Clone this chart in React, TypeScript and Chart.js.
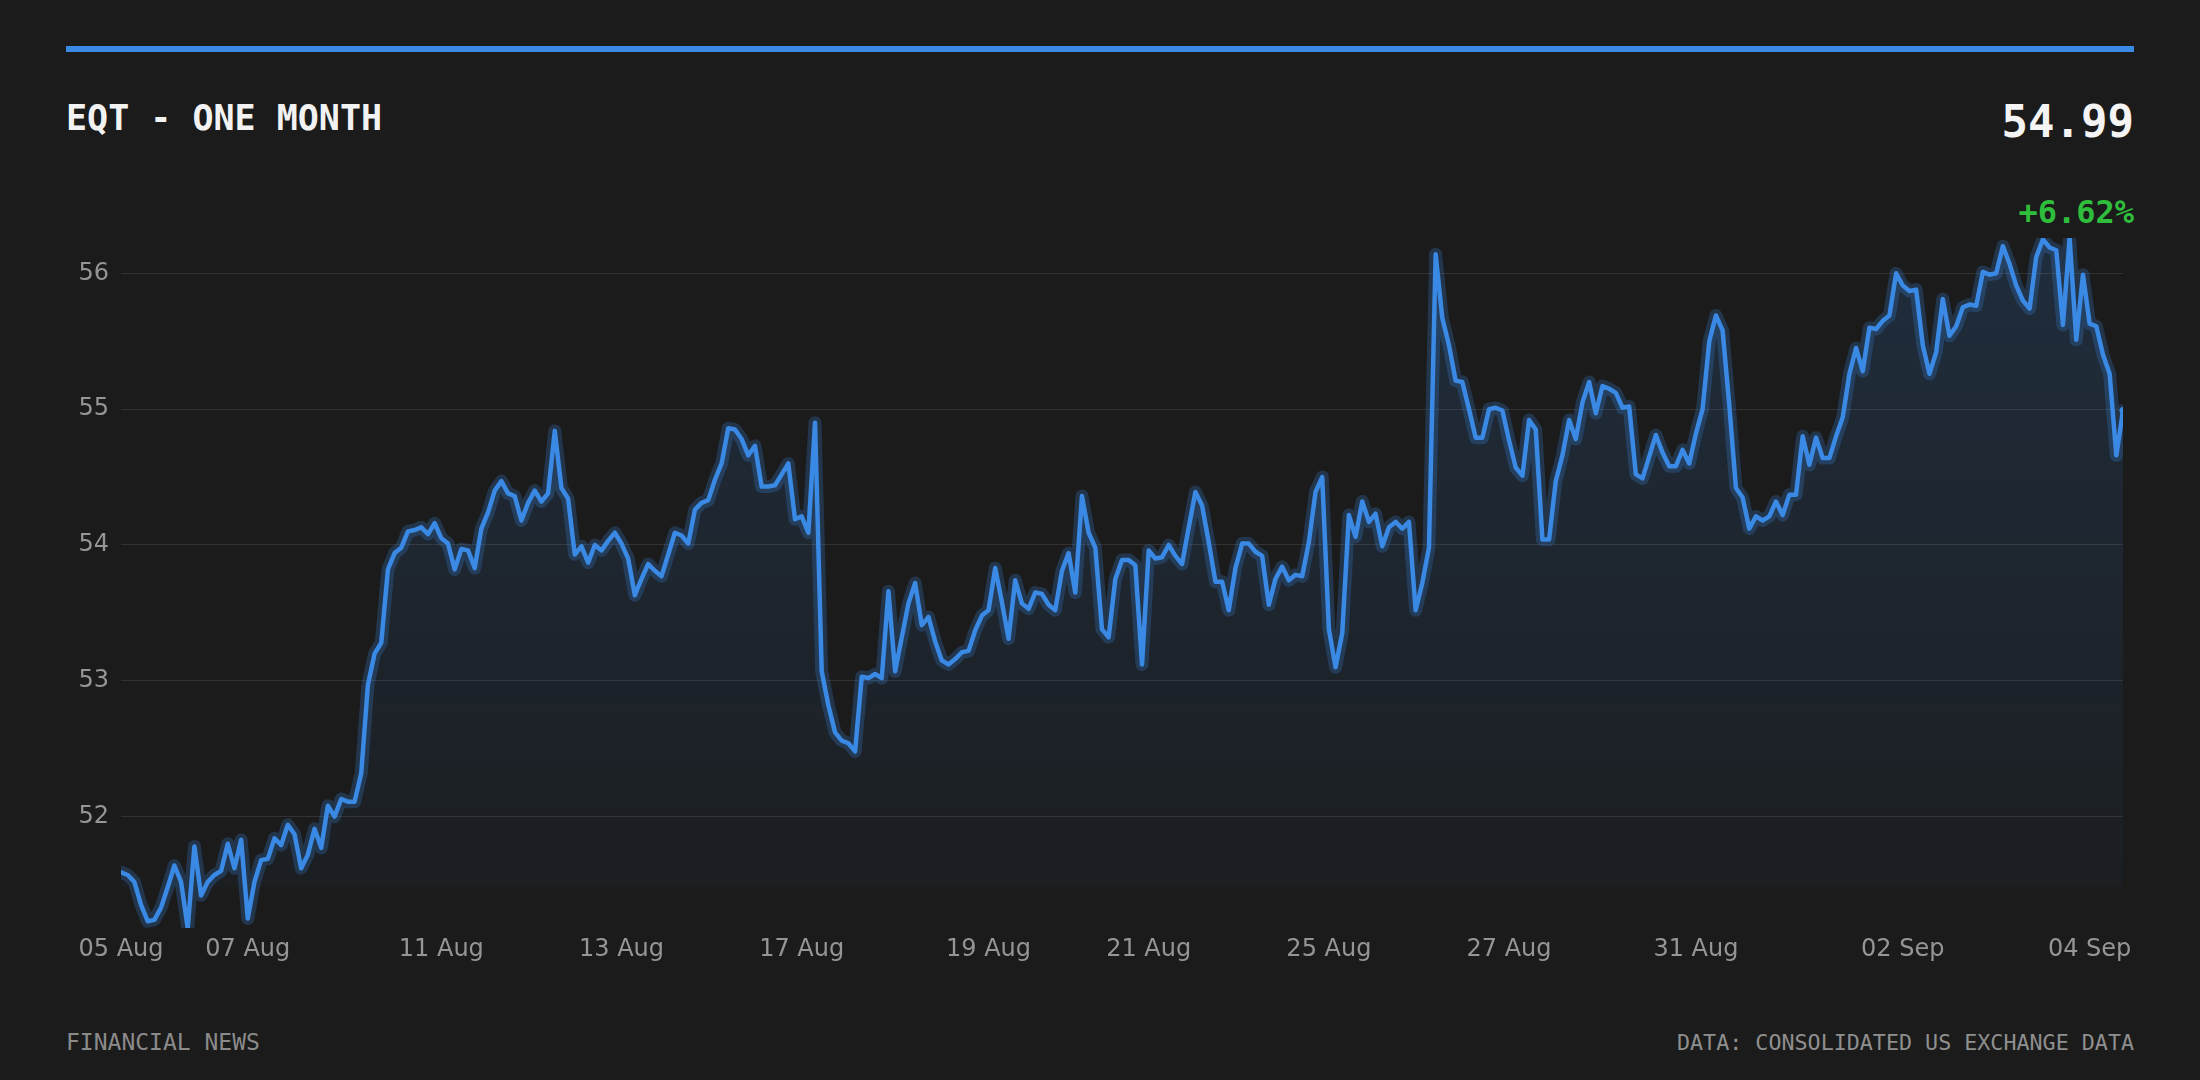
import React, { useEffect, useRef } from 'react';
import { Chart, registerables } from 'chart.js';

Chart.register(...registerables);

const TITLE = 'EQT - ONE MONTH';
const PRICE_TEXT = '54.99';
const CHANGE_TEXT = '+6.62%';
const FOOTER_LEFT = 'FINANCIAL NEWS';
const FOOTER_RIGHT = 'DATA: CONSOLIDATED US EXCHANGE DATA';

const PRICES = [
  51.59, 51.57, 51.52, 51.35, 51.23, 51.24, 51.33, 51.48, 51.64, 51.52,
  51.18, 51.78, 51.42, 51.52, 51.57, 51.60, 51.80, 51.62, 51.83, 51.25,
  51.52, 51.68, 51.69, 51.84, 51.79, 51.94, 51.87, 51.62, 51.72, 51.91,
  51.77, 52.08, 52.00, 52.13, 52.11, 52.11, 52.32, 52.97, 53.20, 53.28,
  53.82, 53.94, 53.98, 54.10,
  54.11, 54.13, 54.08, 54.16, 54.05, 54.01, 53.82, 53.97, 53.96, 53.83,
  54.12, 54.24, 54.40, 54.47, 54.38, 54.36, 54.18, 54.31, 54.40, 54.32,
  54.38, 54.84, 54.42, 54.34, 53.93, 53.99, 53.87, 54.00, 53.96, 54.03,
  54.09, 54.01, 53.90, 53.63, 53.75, 53.86, 53.81, 53.77, 53.93, 54.09,
  54.07, 54.01, 54.26, 54.31,
  54.33, 54.48, 54.60, 54.86, 54.85, 54.78, 54.66, 54.73, 54.43, 54.43,
  54.44, 54.52, 54.60, 54.19, 54.21, 54.09, 54.90, 53.07, 52.82, 52.62,
  52.56, 52.54, 52.48, 53.03, 53.02, 53.05, 53.02, 53.66, 53.07, 53.32,
  53.57, 53.72, 53.41, 53.47, 53.29, 53.15, 53.12, 53.16, 53.21, 53.22,
  53.37, 53.48,
  53.52, 53.83, 53.58, 53.31, 53.74, 53.57, 53.53, 53.65, 53.64, 53.56,
  53.52, 53.81, 53.94, 53.65, 54.36, 54.09, 53.98, 53.38, 53.32, 53.75,
  53.89, 53.89, 53.85, 53.12, 53.96, 53.90, 53.91, 54.00, 53.92, 53.86,
  54.13, 54.39, 54.29, 54.02, 53.73, 53.73, 53.52, 53.83, 54.01, 54.01,
  53.95, 53.92, 53.56, 53.75,
  53.84, 53.74, 53.78, 53.77, 54.02, 54.39, 54.50, 53.38, 53.10, 53.35,
  54.22, 54.06, 54.32, 54.17, 54.23, 53.99, 54.13, 54.17, 54.12, 54.17,
  53.52, 53.72, 53.98, 56.14, 55.67, 55.47, 55.21, 55.20, 55.00, 54.79,
  54.79, 55.00, 55.01, 54.99, 54.77, 54.57, 54.51, 54.92, 54.85, 54.04,
  54.04, 54.47, 54.66, 54.92,
  54.78, 55.05, 55.20, 54.97, 55.17, 55.15, 55.12, 55.01, 55.02, 54.52,
  54.49, 54.65, 54.81, 54.68, 54.58, 54.58, 54.70, 54.60, 54.82, 55.00,
  55.50, 55.69, 55.58, 55.03, 54.42, 54.35, 54.12, 54.21, 54.18, 54.21,
  54.32, 54.22, 54.37, 54.37, 54.80, 54.59, 54.79, 54.64, 54.64, 54.80,
  54.94, 55.26, 55.45,
  55.28, 55.60, 55.59, 55.65, 55.69, 56.00, 55.91, 55.87, 55.88, 55.47,
  55.26, 55.42, 55.81, 55.54, 55.61, 55.75, 55.77, 55.76, 56.01, 55.99,
  56.00, 56.20, 56.07, 55.91, 55.80, 55.74, 56.12, 56.25, 56.19, 56.17,
  55.62, 56.26, 55.51, 55.99, 55.63, 55.61, 55.40, 55.26, 54.66, 54.99,
];

const TICK_IDX = [0, 19, 48, 75, 102, 130, 154, 181, 208, 236, 267, 295];
const TICK_LABELS = ['05 Aug', '07 Aug', '11 Aug', '13 Aug', '17 Aug', '19 Aug', '21 Aug', '25 Aug', '27 Aug', '31 Aug', '02 Sep', '04 Sep'];
const Y_TICKS = [52, 53, 54, 55, 56];

const BG = '#1b1b1b';
const BLUE = '#3a89e4';
const GLOW = 'rgba(58,137,228,0.24)';
const GRID = 'rgba(255,255,255,0.10)';
const TICK_COLOR = '#959595';
const GREEN = '#2fbe3c';
const MONO = '"DejaVu Sans Mono", monospace';

export default function App() {
  const ref = useRef<HTMLCanvasElement | null>(null);

  useEffect(() => {
    document.body.style.margin = '0';
    document.body.style.background = BG;
    const points = PRICES.map((y, x) => ({ x, y }));
    const tickFont = { family: 'DejaVu Sans', size: 24 };
    const chart = new Chart(ref.current as HTMLCanvasElement, {
      type: 'line',
      data: {
        datasets: [
          {
            data: points,
            borderColor: BLUE,
            borderWidth: 4.5,
            fill: false,
            tension: 0,
            borderJoinStyle: 'round',
            borderCapStyle: 'round',
            pointRadius: (c: any) => (c.dataIndex === PRICES.length - 1 ? 3.5 : 0),
            pointBackgroundColor: BLUE,
            pointBorderWidth: 0,
            pointHoverRadius: 0,
          },
          {
            data: points,
            borderColor: GLOW,
            borderWidth: 13,
            tension: 0,
            borderJoinStyle: 'round',
            borderCapStyle: 'round',
            pointRadius: 0,
            pointHoverRadius: 0,
            fill: 'start',
            backgroundColor: (c: any) => {
              const area = c.chart.chartArea;
              if (!area) return 'rgba(0,0,0,0)';
              const g = c.chart.ctx.createLinearGradient(0, area.top, 0, area.bottom);
              g.addColorStop(0, 'rgba(58,137,228,0.17)');
              g.addColorStop(0.94, 'rgba(58,137,228,0.035)');
              g.addColorStop(0.941, 'rgba(58,137,228,0.0)');
              g.addColorStop(1, 'rgba(58,137,228,0.0)');
              return g;
            },
          },
        ],
      } as any,
      options: {
        animation: false,
        responsive: true,
        maintainAspectRatio: false,
        events: [],
        layout: { padding: { top: 10, right: 15, bottom: 0, left: 0 } },
        plugins: { legend: { display: false }, tooltip: { enabled: false } },
        scales: {
          x: {
            type: 'linear',
            min: 0,
            max: PRICES.length - 1,
            grid: { display: false, drawTicks: false },
            border: { display: false },
            afterBuildTicks: (s: any) => {
              s.ticks = TICK_IDX.map((value) => ({ value }));
            },
            afterFit: (s: any) => {
              s.height = 40;
              s.paddingLeft = 0;
              s.paddingRight = 0;
            },
            ticks: {
              autoSkip: false,
              maxRotation: 0,
              minRotation: 0,
              padding: 7,
              color: TICK_COLOR,
              font: tickFont,
              callback: (v: any) => {
                const k = TICK_IDX.indexOf(Number(v));
                return k >= 0 ? TICK_LABELS[k] : '';
              },
            },
          },
          y: {
            min: Math.min(...PRICES),
            max: Math.max(...PRICES),
            grid: { color: GRID, lineWidth: 1, drawTicks: false },
            border: { display: false },
            afterBuildTicks: (s: any) => {
              s.ticks = Y_TICKS.map((value) => ({ value }));
            },
            afterFit: (s: any) => {
              s.width = 55;
              s.paddingTop = 0;
              s.paddingBottom = 0;
            },
            ticks: {
              padding: 12,
              color: TICK_COLOR,
              font: tickFont,
              callback: (v: any) => String(v),
            },
          },
        },
      } as any,
    });
    return () => chart.destroy();
  }, []);

  const abs = (s: React.CSSProperties): React.CSSProperties => ({ position: 'absolute', margin: 0, lineHeight: 1, whiteSpace: 'nowrap', ...s });

  return (
    <div style={{ position: 'fixed', left: 0, top: 0, width: 2200, height: 1080, background: BG, overflow: 'hidden' }}>
      <div style={abs({ left: 66, top: 46, width: 2068, height: 6, background: BLUE })} />
      <div style={abs({ left: 66, top: 100.5, fontFamily: MONO, fontWeight: 'bold', fontSize: 35, color: '#f2f2f2' })}>{TITLE}</div>
      <div style={abs({ right: 66, top: 100, fontFamily: MONO, fontWeight: 'bold', fontSize: 44, color: '#f4f4f4' })}>{PRICE_TEXT}</div>
      <div style={abs({ right: 66, top: 196, fontFamily: MONO, fontWeight: 'bold', fontSize: 32, color: GREEN })}>{CHANGE_TEXT}</div>
      <div style={abs({ left: 66, top: 228, width: 2072, height: 740 })}>
        <canvas ref={ref} />
      </div>
      <div style={abs({ left: 66, top: 1030.5, fontFamily: MONO, fontSize: 23, color: '#8a8a8a' })}>{FOOTER_LEFT}</div>
      <div style={abs({ right: 66, top: 1031.5, fontFamily: MONO, fontSize: 21.7, color: '#8f8f8f' })}>{FOOTER_RIGHT}</div>
    </div>
  );
}
